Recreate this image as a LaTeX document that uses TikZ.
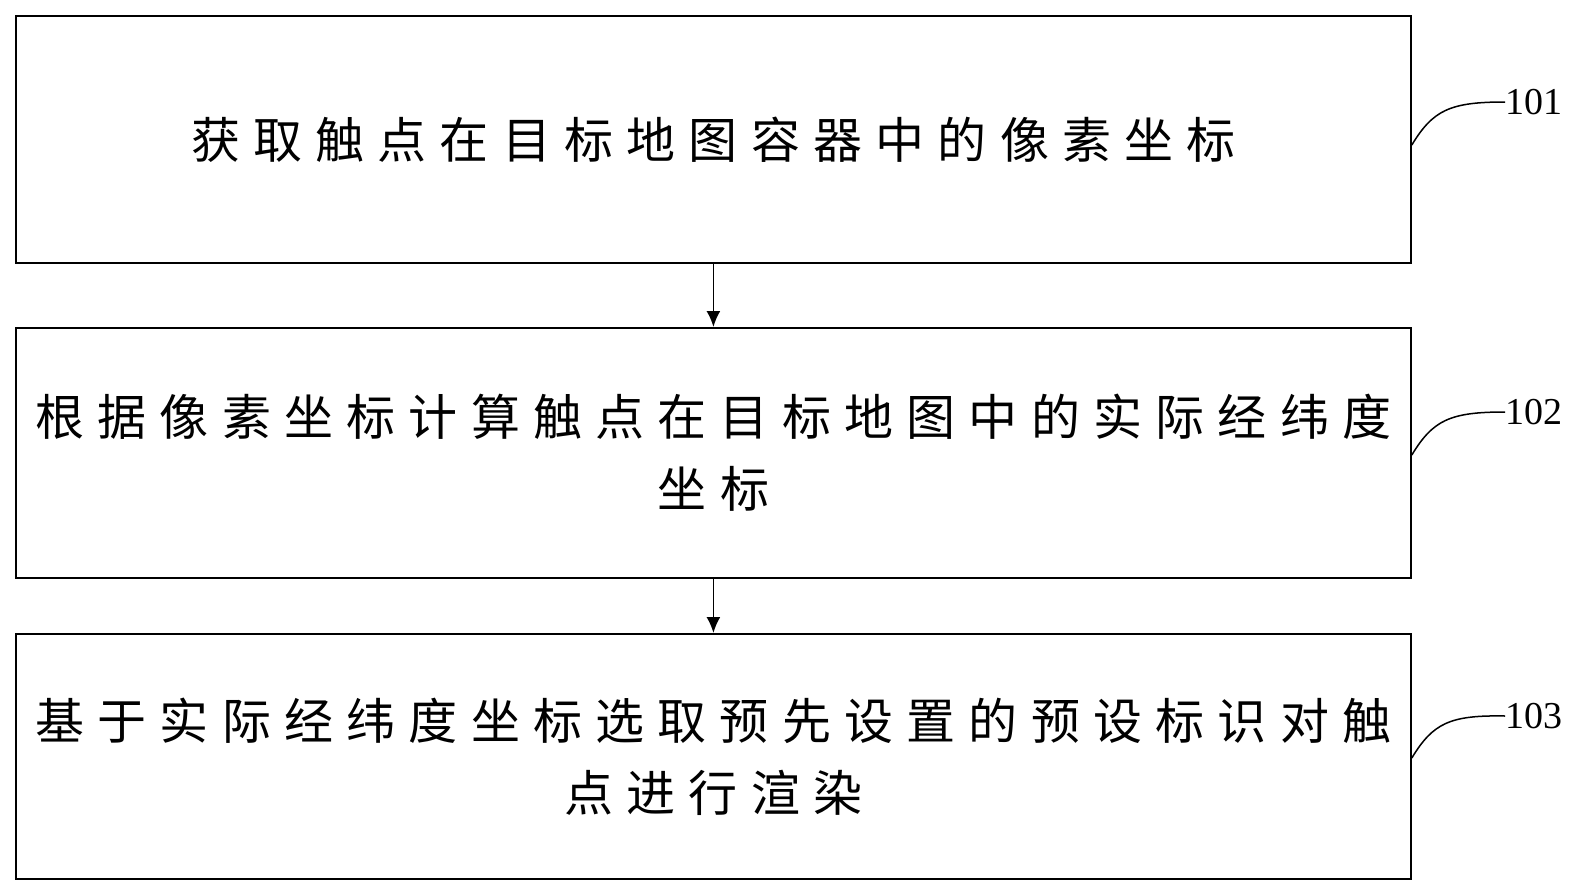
\documentclass[tikz,border=0pt]{standalone}
\usepackage{fontspec}
\setmainfont{Liberation Serif}
\newfontfamily\cjk{Noto Sans CJK SC}[LetterSpace=27]
\usetikzlibrary{arrows.meta}
\begin{document}
\begin{tikzpicture}[x=1pt,y=-1pt,
  stepbox/.style={draw,line width=1.8pt,minimum width=1395pt,anchor=north west,inner sep=0pt,align=center,font=\cjk\fontsize{49}{72}\selectfont},
  arr/.style={-{Latex[length=16pt,width=14pt]},line width=1.8pt},
  lead/.style={line width=1.5pt},
  num/.style={font=\fontsize{38}{40}\selectfont,anchor=west,inner sep=0pt}]
\useasboundingbox (0,0) rectangle (1593,891);
\node[stepbox,minimum height=247pt] (b1) at (15,15) {获取触点在目标地图容器中的像素坐标};
\node[stepbox,minimum height=250pt] (b2) at (15,327) {根据像素坐标计算触点在目标地图中的实际经纬度\\坐标};
\node[stepbox,minimum height=245pt] (b3) at (15,633) {基于实际经纬度坐标选取预先设置的预设标识对触\\点进行渲染};
\draw[arr] (b1.south) -- (b2.north);
\draw[arr] (b2.south) -- (b3.north);
\node[num] (n1) at (1505,102) {101};
\node[num] (n2) at (1505,412) {102};
\node[num] (n3) at (1505,716) {103};
\foreach \b/\n/\y in {b1/n1/145,b2/n2/455,b3/n3/758}{
  \draw[lead] (\b.east |- 0,\y) .. controls (1433,\y-35) and (1450,\y-43) .. (\n.west);
}
\end{tikzpicture}
\end{document}
